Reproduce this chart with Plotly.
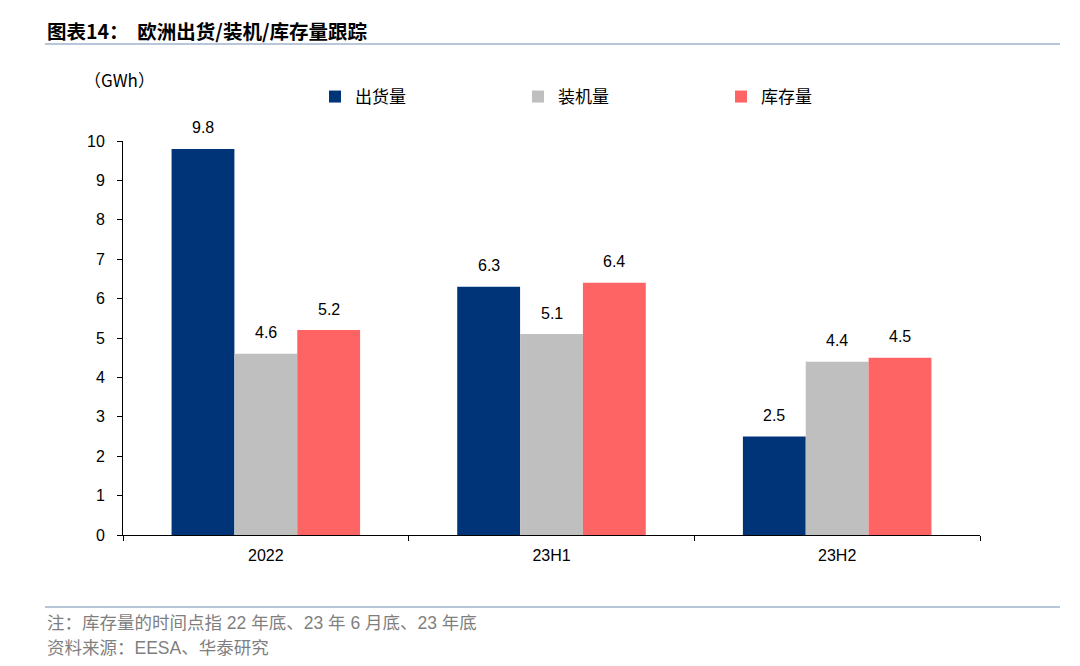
import plotly.graph_objects as go

categories = ["2022", "23H1", "23H2"]
shipments = [9.8, 6.3, 2.5]
installed = [4.6, 5.1, 4.4]
inventory = [5.2, 6.4, 4.5]
series_names = ["出货量", "装机量", "库存量"]
colors = ["#003478", "#bfbfbf", "#ff6464"]
y_ticks = list(range(0, 11))

FONT = "Liberation Sans, Arial, Noto Sans CJK SC, sans-serif"
CJK = "Noto Sans CJK SC, sans-serif"

# page offset of 8px (body margin) compensated
W, H = 1072, 658
L, R, T, B = 115, 100, 133, 131
PW, PH = W - L - R, H - T - B
BARGAP = 0.34
bar_w = PW / len(categories) * (1 - BARGAP) / 3


def px_x(page_x):
    return (page_x - 8 - L) / PW


def px_y(page_y):
    return (H - B - (page_y - 8)) / PH


fig = go.Figure()
all_series = [shipments, installed, inventory]
for name, vals, col in zip(series_names, all_series, colors):
    fig.add_trace(go.Bar(
        x=categories, y=vals, name=name, marker_color=col, marker_line_width=0,
    ))

# data labels above bars (x given as category index on the category axis)
for i, vals in enumerate(all_series):
    for ci, v in enumerate(vals):
        fig.add_annotation(x=ci, y=v, xref="x", yref="y", text=f"{v:.1f}",
                           showarrow=False, xanchor="center", yanchor="middle",
                           xshift=(i - 1) * bar_w, yshift=21,
                           font=dict(family=FONT, size=16, color="#000000"))

fig.update_layout(
    width=W, height=H, barmode="group", bargap=BARGAP, bargroupgap=0,
    plot_bgcolor="white", paper_bgcolor="white",
    margin=dict(l=L, r=R, t=T, b=B, autoexpand=False),
    font=dict(family=FONT, size=16, color="#000000"),
    showlegend=True,
    legend=dict(orientation="h", x=px_x(315), xanchor="left", y=px_y(97), yanchor="middle",
                entrywidth=158, entrywidthmode="pixels", itemwidth=30,
                font=dict(family=CJK, size=17, color="#000000"),
                bgcolor="rgba(0,0,0,0)"),
    xaxis=dict(type="category", categoryorder="array", categoryarray=categories,
               range=[-0.5, len(categories) - 0.5],
               showline=True, linecolor="#000000", linewidth=1, ticks="outside",
               tickson="boundaries", ticklen=5, tickcolor="#000000",
               ticklabelstandoff=6, tickangle=0,
               tickfont=dict(family=FONT, size=16, color="#000000"),
               showgrid=False, zeroline=False),
    yaxis=dict(range=[0, 10], tickvals=y_ticks, showline=True, linecolor="#000000",
               linewidth=1, ticks="outside", ticklen=5, tickcolor="#000000",
               ticklabelstandoff=9,
               tickfont=dict(family=FONT, size=16, color="#000000"),
               showgrid=False, zeroline=False),
)

# title
fig.add_annotation(text="<b>图表14：  欧洲出货/装机/库存量跟踪</b>", xref="paper", yref="paper",
                   x=px_x(45), y=px_y(31), xanchor="left", yanchor="middle", showarrow=False,
                   font=dict(family=CJK, size=19.5, color="#000000"))
# unit
fig.add_annotation(text="（GWh）", xref="paper", yref="paper",
                   x=px_x(82), y=px_y(80), xanchor="left", yanchor="middle", showarrow=False,
                   font=dict(family=CJK, size=17, color="#000000"))
# footnotes
fig.add_annotation(text="注：库存量的时间点指 22 年底、23 年 6 月底、23 年底", xref="paper", yref="paper",
                   x=px_x(45), y=px_y(623), xanchor="left", yanchor="middle", showarrow=False,
                   font=dict(family=FONT + ", " + CJK, size=17.5, color="#7f7f7f"))
fig.add_annotation(text="资料来源：EESA、华泰研究", xref="paper", yref="paper",
                   x=px_x(45), y=px_y(648), xanchor="left", yanchor="middle", showarrow=False,
                   font=dict(family=FONT + ", " + CJK, size=17.5, color="#7f7f7f"))
# separator lines
for ypix in (44, 607):
    fig.add_shape(type="line", xref="paper", yref="paper",
                  x0=px_x(45), x1=px_x(1060), y0=px_y(ypix), y1=px_y(ypix),
                  line=dict(color="#9fb3cd", width=1.5))

fig.write_html("out.html")
